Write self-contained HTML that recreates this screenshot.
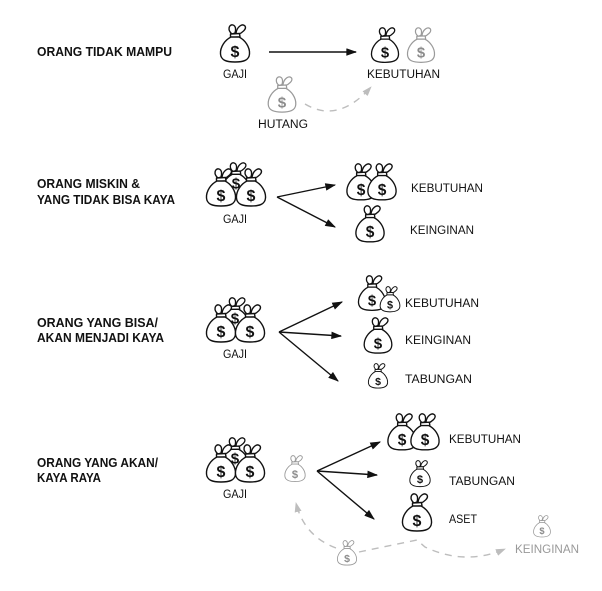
<!DOCTYPE html>
<html>
<head>
<meta charset="utf-8">
<style>
  html,body{margin:0;padding:0;background:#fff;}
  svg{display:block;}
  .h{font-family:"Liberation Sans",Arial,sans-serif;font-weight:bold;font-size:12.5px;fill:#111;}
  .l{font-family:"Liberation Sans",Arial,sans-serif;font-size:11.5px;fill:#111;}
  .lg{font-family:"Liberation Sans",Arial,sans-serif;font-size:11.5px;fill:#999;}
  .bk path{fill:#fff;stroke:#111;stroke-width:1.4;stroke-linejoin:round;}
  .bk text{font-family:"Liberation Sans",Arial,sans-serif;font-weight:bold;font-size:16px;fill:#111;}
  .gr path{fill:#fff;stroke:#9a9a9a;stroke-width:1.3;stroke-linejoin:round;}
  .gr text{font-family:"Liberation Sans",Arial,sans-serif;font-weight:bold;font-size:16px;fill:#8c8c8c;}
  .ar{stroke:#111;stroke-width:1.4;fill:none;}
  .ds{stroke:#bdbdbd;stroke-width:1.4;fill:none;stroke-dasharray:7 6;}
</style>
</head>
<body>
<svg width="602" height="591" viewBox="0 0 602 591" xmlns="http://www.w3.org/2000/svg">
<defs>
  <marker id="ab" viewBox="0 0 10 7" refX="9" refY="3.5" markerWidth="11" markerHeight="7.5" orient="auto" markerUnits="userSpaceOnUse">
    <path d="M0,0 L10,3.5 L0,7 Z" fill="#111"/>
  </marker>
  <marker id="ag" viewBox="0 0 10 7" refX="9" refY="3.5" markerWidth="10" markerHeight="7" orient="auto" markerUnits="userSpaceOnUse">
    <path d="M0,0 L10,3.5 L0,7 Z" fill="#bdbdbd"/>
  </marker>
</defs>

<!-- ================= SECTION 1 ================= -->
<text class="h" x="37" y="56" textLength="135" lengthAdjust="spacingAndGlyphs">ORANG TIDAK MAMPU</text>

<g class="bk" transform="translate(235,24) scale(1)">
  <path d="M-3,10 C-8,6 -6,0 -2,1 C1,2 1,6 0,9 Z"/>
  <path d="M1,9 C2,3 7,-1 10,2 C12,5 7,9 3,10.5 Z"/>
  <path d="M-4.5,10 L4.5,9.5 L5,13 L-4.5,13.5 Z"/>
  <path d="M-4,13 C-10,16 -15,23 -14.5,30 C-14,36.5 -8,38 0,38 C8,38 14,36.5 14.5,30 C15,23 10,16 4,13 Z"/>
  <text x="0" y="33" text-anchor="middle">$</text>
</g>
<text class="l" x="223" y="78" textLength="24" lengthAdjust="spacingAndGlyphs">GAJI</text>

<line class="ar" x1="269" y1="52" x2="356" y2="52" marker-end="url(#ab)"/>

<g class="bk" transform="translate(385,27) scale(0.93)">
  <path d="M-3,10 C-8,6 -6,0 -2,1 C1,2 1,6 0,9 Z"/>
  <path d="M1,9 C2,3 7,-1 10,2 C12,5 7,9 3,10.5 Z"/>
  <path d="M-4.5,10 L4.5,9.5 L5,13 L-4.5,13.5 Z"/>
  <path d="M-4,13 C-10,16 -15,23 -14.5,30 C-14,36.5 -8,38 0,38 C8,38 14,36.5 14.5,30 C15,23 10,16 4,13 Z"/>
  <text x="0" y="33" text-anchor="middle">$</text>
</g>
<g class="gr" transform="translate(421,27) scale(0.93)">
  <path d="M-3,10 C-8,6 -6,0 -2,1 C1,2 1,6 0,9 Z"/>
  <path d="M1,9 C2,3 7,-1 10,2 C12,5 7,9 3,10.5 Z"/>
  <path d="M-4.5,10 L4.5,9.5 L5,13 L-4.5,13.5 Z"/>
  <path d="M-4,13 C-10,16 -15,23 -14.5,30 C-14,36.5 -8,38 0,38 C8,38 14,36.5 14.5,30 C15,23 10,16 4,13 Z"/>
  <text x="0" y="33" text-anchor="middle">$</text>
</g>
<text class="l" x="367" y="78" textLength="73" lengthAdjust="spacingAndGlyphs">KEBUTUHAN</text>

<g class="gr" transform="translate(282,76) scale(0.95)">
  <path d="M-3,10 C-8,6 -6,0 -2,1 C1,2 1,6 0,9 Z"/>
  <path d="M1,9 C2,3 7,-1 10,2 C12,5 7,9 3,10.5 Z"/>
  <path d="M-4.5,10 L4.5,9.5 L5,13 L-4.5,13.5 Z"/>
  <path d="M-4,13 C-10,16 -15,23 -14.5,30 C-14,36.5 -8,38 0,38 C8,38 14,36.5 14.5,30 C15,23 10,16 4,13 Z"/>
  <text x="0" y="33" text-anchor="middle">$</text>
</g>
<text class="l" x="258" y="128" textLength="50" lengthAdjust="spacingAndGlyphs">HUTANG</text>
<path class="ds" d="M305,104 Q338,124 371,87" marker-end="url(#ag)"/>

<!-- ================= SECTION 2 ================= -->
<text class="h" x="37" y="188" textLength="103" lengthAdjust="spacingAndGlyphs">ORANG MISKIN &amp;</text>
<text class="h" x="37" y="204" textLength="138" lengthAdjust="spacingAndGlyphs">YANG TIDAK BISA KAYA</text>

<g class="bk" transform="translate(236,162) scale(0.95)">
  <path d="M-3,10 C-8,6 -6,0 -2,1 C1,2 1,6 0,9 Z"/>
  <path d="M1,9 C2,3 7,-1 10,2 C12,5 7,9 3,10.5 Z"/>
  <path d="M-4.5,10 L4.5,9.5 L5,13 L-4.5,13.5 Z"/>
  <path d="M-4,13 C-10,16 -15,23 -14.5,30 C-14,36.5 -8,38 0,38 C8,38 14,36.5 14.5,30 C15,23 10,16 4,13 Z"/>
  <text x="0" y="28" text-anchor="middle">$</text>
</g>
<g class="bk" transform="translate(221,168)">
  <path d="M-3,10 C-8,6 -6,0 -2,1 C1,2 1,6 0,9 Z"/>
  <path d="M1,9 C2,3 7,-1 10,2 C12,5 7,9 3,10.5 Z"/>
  <path d="M-4.5,10 L4.5,9.5 L5,13 L-4.5,13.5 Z"/>
  <path d="M-4,13 C-10,16 -15,23 -14.5,30 C-14,36.5 -8,38 0,38 C8,38 14,36.5 14.5,30 C15,23 10,16 4,13 Z"/>
  <text x="0" y="33" text-anchor="middle">$</text>
</g>
<g class="bk" transform="translate(251,168)">
  <path d="M-3,10 C-8,6 -6,0 -2,1 C1,2 1,6 0,9 Z"/>
  <path d="M1,9 C2,3 7,-1 10,2 C12,5 7,9 3,10.5 Z"/>
  <path d="M-4.5,10 L4.5,9.5 L5,13 L-4.5,13.5 Z"/>
  <path d="M-4,13 C-10,16 -15,23 -14.5,30 C-14,36.5 -8,38 0,38 C8,38 14,36.5 14.5,30 C15,23 10,16 4,13 Z"/>
  <text x="0" y="33" text-anchor="middle">$</text>
</g>
<text class="l" x="223" y="223" textLength="24" lengthAdjust="spacingAndGlyphs">GAJI</text>

<line class="ar" x1="277" y1="197" x2="335" y2="185" marker-end="url(#ab)"/>
<line class="ar" x1="277" y1="197" x2="335" y2="227" marker-end="url(#ab)"/>

<g class="bk" transform="translate(361,163) scale(0.97)">
  <path d="M-3,10 C-8,6 -6,0 -2,1 C1,2 1,6 0,9 Z"/>
  <path d="M1,9 C2,3 7,-1 10,2 C12,5 7,9 3,10.5 Z"/>
  <path d="M-4.5,10 L4.5,9.5 L5,13 L-4.5,13.5 Z"/>
  <path d="M-4,13 C-10,16 -15,23 -14.5,30 C-14,36.5 -8,38 0,38 C8,38 14,36.5 14.5,30 C15,23 10,16 4,13 Z"/>
  <text x="0" y="33" text-anchor="middle">$</text>
</g>
<g class="bk" transform="translate(382,163) scale(0.97)">
  <path d="M-3,10 C-8,6 -6,0 -2,1 C1,2 1,6 0,9 Z"/>
  <path d="M1,9 C2,3 7,-1 10,2 C12,5 7,9 3,10.5 Z"/>
  <path d="M-4.5,10 L4.5,9.5 L5,13 L-4.5,13.5 Z"/>
  <path d="M-4,13 C-10,16 -15,23 -14.5,30 C-14,36.5 -8,38 0,38 C8,38 14,36.5 14.5,30 C15,23 10,16 4,13 Z"/>
  <text x="0" y="33" text-anchor="middle">$</text>
</g>
<text class="l" x="411" y="192" textLength="72" lengthAdjust="spacingAndGlyphs">KEBUTUHAN</text>

<g class="bk" transform="translate(370,205) scale(0.97)">
  <path d="M-3,10 C-8,6 -6,0 -2,1 C1,2 1,6 0,9 Z"/>
  <path d="M1,9 C2,3 7,-1 10,2 C12,5 7,9 3,10.5 Z"/>
  <path d="M-4.5,10 L4.5,9.5 L5,13 L-4.5,13.5 Z"/>
  <path d="M-4,13 C-10,16 -15,23 -14.5,30 C-14,36.5 -8,38 0,38 C8,38 14,36.5 14.5,30 C15,23 10,16 4,13 Z"/>
  <text x="0" y="33" text-anchor="middle">$</text>
</g>
<text class="l" x="410" y="234" textLength="64" lengthAdjust="spacingAndGlyphs">KEINGINAN</text>

<!-- ================= SECTION 3 ================= -->
<text class="h" x="37" y="327" textLength="121" lengthAdjust="spacingAndGlyphs">ORANG YANG BISA/</text>
<text class="h" x="37" y="342" textLength="127" lengthAdjust="spacingAndGlyphs">AKAN MENJADI KAYA</text>

<g class="bk" transform="translate(235,297) scale(0.95)">
  <path d="M-3,10 C-8,6 -6,0 -2,1 C1,2 1,6 0,9 Z"/>
  <path d="M1,9 C2,3 7,-1 10,2 C12,5 7,9 3,10.5 Z"/>
  <path d="M-4.5,10 L4.5,9.5 L5,13 L-4.5,13.5 Z"/>
  <path d="M-4,13 C-10,16 -15,23 -14.5,30 C-14,36.5 -8,38 0,38 C8,38 14,36.5 14.5,30 C15,23 10,16 4,13 Z"/>
  <text x="0" y="28" text-anchor="middle">$</text>
</g>
<g class="bk" transform="translate(221,304)">
  <path d="M-3,10 C-8,6 -6,0 -2,1 C1,2 1,6 0,9 Z"/>
  <path d="M1,9 C2,3 7,-1 10,2 C12,5 7,9 3,10.5 Z"/>
  <path d="M-4.5,10 L4.5,9.5 L5,13 L-4.5,13.5 Z"/>
  <path d="M-4,13 C-10,16 -15,23 -14.5,30 C-14,36.5 -8,38 0,38 C8,38 14,36.5 14.5,30 C15,23 10,16 4,13 Z"/>
  <text x="0" y="33" text-anchor="middle">$</text>
</g>
<g class="bk" transform="translate(250,304)">
  <path d="M-3,10 C-8,6 -6,0 -2,1 C1,2 1,6 0,9 Z"/>
  <path d="M1,9 C2,3 7,-1 10,2 C12,5 7,9 3,10.5 Z"/>
  <path d="M-4.5,10 L4.5,9.5 L5,13 L-4.5,13.5 Z"/>
  <path d="M-4,13 C-10,16 -15,23 -14.5,30 C-14,36.5 -8,38 0,38 C8,38 14,36.5 14.5,30 C15,23 10,16 4,13 Z"/>
  <text x="0" y="33" text-anchor="middle">$</text>
</g>
<text class="l" x="223" y="358" textLength="24" lengthAdjust="spacingAndGlyphs">GAJI</text>

<line class="ar" x1="279" y1="332" x2="342" y2="302" marker-end="url(#ab)"/>
<line class="ar" x1="279" y1="332" x2="341" y2="336" marker-end="url(#ab)"/>
<line class="ar" x1="279" y1="332" x2="338" y2="381" marker-end="url(#ab)"/>

<g class="bk" transform="translate(372,275) scale(0.93)">
  <path d="M-3,10 C-8,6 -6,0 -2,1 C1,2 1,6 0,9 Z"/>
  <path d="M1,9 C2,3 7,-1 10,2 C12,5 7,9 3,10.5 Z"/>
  <path d="M-4.5,10 L4.5,9.5 L5,13 L-4.5,13.5 Z"/>
  <path d="M-4,13 C-10,16 -15,23 -14.5,30 C-14,36.5 -8,38 0,38 C8,38 14,36.5 14.5,30 C15,23 10,16 4,13 Z"/>
  <text x="0" y="33" text-anchor="middle">$</text>
</g>
<g class="bk" transform="translate(390,286) scale(0.68)">
  <path d="M-3,10 C-8,6 -6,0 -2,1 C1,2 1,6 0,9 Z"/>
  <path d="M1,9 C2,3 7,-1 10,2 C12,5 7,9 3,10.5 Z"/>
  <path d="M-4.5,10 L4.5,9.5 L5,13 L-4.5,13.5 Z"/>
  <path d="M-4,13 C-10,16 -15,23 -14.5,30 C-14,36.5 -8,38 0,38 C8,38 14,36.5 14.5,30 C15,23 10,16 4,13 Z"/>
  <text x="0" y="33" text-anchor="middle">$</text>
</g>
<text class="l" x="405" y="307" textLength="74" lengthAdjust="spacingAndGlyphs">KEBUTUHAN</text>

<g class="bk" transform="translate(378,317) scale(0.95)">
  <path d="M-3,10 C-8,6 -6,0 -2,1 C1,2 1,6 0,9 Z"/>
  <path d="M1,9 C2,3 7,-1 10,2 C12,5 7,9 3,10.5 Z"/>
  <path d="M-4.5,10 L4.5,9.5 L5,13 L-4.5,13.5 Z"/>
  <path d="M-4,13 C-10,16 -15,23 -14.5,30 C-14,36.5 -8,38 0,38 C8,38 14,36.5 14.5,30 C15,23 10,16 4,13 Z"/>
  <text x="0" y="33" text-anchor="middle">$</text>
</g>
<text class="l" x="405" y="344" textLength="66" lengthAdjust="spacingAndGlyphs">KEINGINAN</text>

<g class="bk" transform="translate(378,363) scale(0.66)">
  <path d="M-3,10 C-8,6 -6,0 -2,1 C1,2 1,6 0,9 Z"/>
  <path d="M1,9 C2,3 7,-1 10,2 C12,5 7,9 3,10.5 Z"/>
  <path d="M-4.5,10 L4.5,9.5 L5,13 L-4.5,13.5 Z"/>
  <path d="M-4,13 C-10,16 -15,23 -14.5,30 C-14,36.5 -8,38 0,38 C8,38 14,36.5 14.5,30 C15,23 10,16 4,13 Z"/>
  <text x="0" y="33" text-anchor="middle">$</text>
</g>
<text class="l" x="405" y="383" textLength="67" lengthAdjust="spacingAndGlyphs">TABUNGAN</text>

<!-- ================= SECTION 4 ================= -->
<text class="h" x="37" y="467" textLength="121" lengthAdjust="spacingAndGlyphs">ORANG YANG AKAN/</text>
<text class="h" x="37" y="482" textLength="64" lengthAdjust="spacingAndGlyphs">KAYA RAYA</text>

<g class="bk" transform="translate(235,437) scale(0.95)">
  <path d="M-3,10 C-8,6 -6,0 -2,1 C1,2 1,6 0,9 Z"/>
  <path d="M1,9 C2,3 7,-1 10,2 C12,5 7,9 3,10.5 Z"/>
  <path d="M-4.5,10 L4.5,9.5 L5,13 L-4.5,13.5 Z"/>
  <path d="M-4,13 C-10,16 -15,23 -14.5,30 C-14,36.5 -8,38 0,38 C8,38 14,36.5 14.5,30 C15,23 10,16 4,13 Z"/>
  <text x="0" y="28" text-anchor="middle">$</text>
</g>
<g class="bk" transform="translate(221,444)">
  <path d="M-3,10 C-8,6 -6,0 -2,1 C1,2 1,6 0,9 Z"/>
  <path d="M1,9 C2,3 7,-1 10,2 C12,5 7,9 3,10.5 Z"/>
  <path d="M-4.5,10 L4.5,9.5 L5,13 L-4.5,13.5 Z"/>
  <path d="M-4,13 C-10,16 -15,23 -14.5,30 C-14,36.5 -8,38 0,38 C8,38 14,36.5 14.5,30 C15,23 10,16 4,13 Z"/>
  <text x="0" y="33" text-anchor="middle">$</text>
</g>
<g class="bk" transform="translate(250,444)">
  <path d="M-3,10 C-8,6 -6,0 -2,1 C1,2 1,6 0,9 Z"/>
  <path d="M1,9 C2,3 7,-1 10,2 C12,5 7,9 3,10.5 Z"/>
  <path d="M-4.5,10 L4.5,9.5 L5,13 L-4.5,13.5 Z"/>
  <path d="M-4,13 C-10,16 -15,23 -14.5,30 C-14,36.5 -8,38 0,38 C8,38 14,36.5 14.5,30 C15,23 10,16 4,13 Z"/>
  <text x="0" y="33" text-anchor="middle">$</text>
</g>
<text class="l" x="223" y="498" textLength="24" lengthAdjust="spacingAndGlyphs">GAJI</text>

<g class="gr" transform="translate(295,455) scale(0.7)">
  <path d="M-3,10 C-8,6 -6,0 -2,1 C1,2 1,6 0,9 Z"/>
  <path d="M1,9 C2,3 7,-1 10,2 C12,5 7,9 3,10.5 Z"/>
  <path d="M-4.5,10 L4.5,9.5 L5,13 L-4.5,13.5 Z"/>
  <path d="M-4,13 C-10,16 -15,23 -14.5,30 C-14,36.5 -8,38 0,38 C8,38 14,36.5 14.5,30 C15,23 10,16 4,13 Z"/>
  <text x="0" y="33" text-anchor="middle">$</text>
</g>

<line class="ar" x1="317" y1="471" x2="380" y2="442" marker-end="url(#ab)"/>
<line class="ar" x1="317" y1="471" x2="377" y2="475" marker-end="url(#ab)"/>
<line class="ar" x1="317" y1="471" x2="374" y2="519" marker-end="url(#ab)"/>

<g class="bk" transform="translate(402,413) scale(0.97)">
  <path d="M-3,10 C-8,6 -6,0 -2,1 C1,2 1,6 0,9 Z"/>
  <path d="M1,9 C2,3 7,-1 10,2 C12,5 7,9 3,10.5 Z"/>
  <path d="M-4.5,10 L4.5,9.5 L5,13 L-4.5,13.5 Z"/>
  <path d="M-4,13 C-10,16 -15,23 -14.5,30 C-14,36.5 -8,38 0,38 C8,38 14,36.5 14.5,30 C15,23 10,16 4,13 Z"/>
  <text x="0" y="33" text-anchor="middle">$</text>
</g>
<g class="bk" transform="translate(425,413) scale(0.97)">
  <path d="M-3,10 C-8,6 -6,0 -2,1 C1,2 1,6 0,9 Z"/>
  <path d="M1,9 C2,3 7,-1 10,2 C12,5 7,9 3,10.5 Z"/>
  <path d="M-4.5,10 L4.5,9.5 L5,13 L-4.5,13.5 Z"/>
  <path d="M-4,13 C-10,16 -15,23 -14.5,30 C-14,36.5 -8,38 0,38 C8,38 14,36.5 14.5,30 C15,23 10,16 4,13 Z"/>
  <text x="0" y="33" text-anchor="middle">$</text>
</g>
<text class="l" x="449" y="443" textLength="72" lengthAdjust="spacingAndGlyphs">KEBUTUHAN</text>

<g class="bk" transform="translate(420,460) scale(0.7)">
  <path d="M-3,10 C-8,6 -6,0 -2,1 C1,2 1,6 0,9 Z"/>
  <path d="M1,9 C2,3 7,-1 10,2 C12,5 7,9 3,10.5 Z"/>
  <path d="M-4.5,10 L4.5,9.5 L5,13 L-4.5,13.5 Z"/>
  <path d="M-4,13 C-10,16 -15,23 -14.5,30 C-14,36.5 -8,38 0,38 C8,38 14,36.5 14.5,30 C15,23 10,16 4,13 Z"/>
  <text x="0" y="33" text-anchor="middle">$</text>
</g>
<text class="l" x="449" y="485" textLength="66" lengthAdjust="spacingAndGlyphs">TABUNGAN</text>

<g class="bk" transform="translate(417,493) scale(1)">
  <path d="M-3,10 C-8,6 -6,0 -2,1 C1,2 1,6 0,9 Z"/>
  <path d="M1,9 C2,3 7,-1 10,2 C12,5 7,9 3,10.5 Z"/>
  <path d="M-4.5,10 L4.5,9.5 L5,13 L-4.5,13.5 Z"/>
  <path d="M-4,13 C-10,16 -15,23 -14.5,30 C-14,36.5 -8,38 0,38 C8,38 14,36.5 14.5,30 C15,23 10,16 4,13 Z"/>
  <text x="0" y="33" text-anchor="middle">$</text>
</g>
<text class="l" x="449" y="523" textLength="28" lengthAdjust="spacingAndGlyphs">ASET</text>

<path class="ds" d="M336,548 Q304,536 296,503" marker-end="url(#ag)"/>
<path class="ds" d="M359,552 L417,540 L425,547 Q465,566 505,549" marker-end="url(#ag)"/>

<g class="gr" transform="translate(347,540) scale(0.66)">
  <path d="M-3,10 C-8,6 -6,0 -2,1 C1,2 1,6 0,9 Z"/>
  <path d="M1,9 C2,3 7,-1 10,2 C12,5 7,9 3,10.5 Z"/>
  <path d="M-4.5,10 L4.5,9.5 L5,13 L-4.5,13.5 Z"/>
  <path d="M-4,13 C-10,16 -15,23 -14.5,30 C-14,36.5 -8,38 0,38 C8,38 14,36.5 14.5,30 C15,23 10,16 4,13 Z"/>
  <text x="0" y="33" text-anchor="middle">$</text>
</g>

<g class="gr" transform="translate(542,515) scale(0.58)">
  <path d="M-3,10 C-8,6 -6,0 -2,1 C1,2 1,6 0,9 Z"/>
  <path d="M1,9 C2,3 7,-1 10,2 C12,5 7,9 3,10.5 Z"/>
  <path d="M-4.5,10 L4.5,9.5 L5,13 L-4.5,13.5 Z"/>
  <path d="M-4,13 C-10,16 -15,23 -14.5,30 C-14,36.5 -8,38 0,38 C8,38 14,36.5 14.5,30 C15,23 10,16 4,13 Z"/>
  <text x="0" y="33" text-anchor="middle">$</text>
</g>
<text class="lg" x="515" y="553" textLength="64" lengthAdjust="spacingAndGlyphs">KEINGINAN</text>

</svg>
</body>
</html>
